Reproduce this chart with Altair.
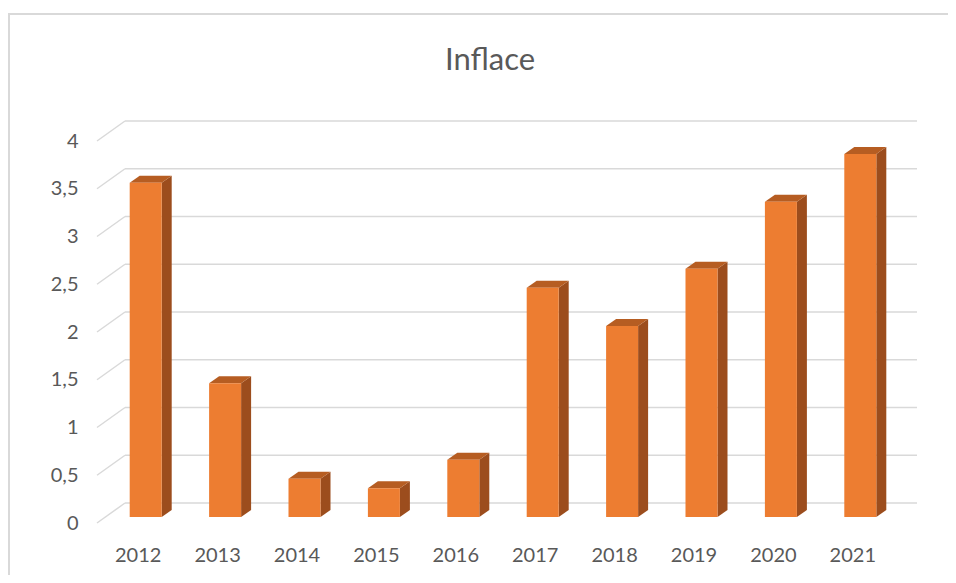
import altair as alt
import pandas as pd

# ---- data ----
years = [2012, 2013, 2014, 2015, 2016, 2017, 2018, 2019, 2020, 2021]
inflation = [3.5, 1.4, 0.4, 0.3, 0.6, 2.4, 2.0, 2.6, 3.3, 3.8]
y_ticks = [0, 0.5, 1, 1.5, 2, 2.5, 3, 3.5, 4]
title_text = "Inflace"

# ---- layout (pixels) ----
W, H = 794, 382
x_dom = [2011.5, 2021.5]
y_dom = [0, 4]
ux = W / (x_dom[1] - x_dom[0])   # px per year
uy = H / (y_dom[1] - y_dom[0])   # px per unit of value

shift = 8 / ux     # bar centre sits behind the front plane
half = 16 / ux     # half bar width
dx = 10 / ux       # 3D depth, horizontal
dy = 7 / uy        # 3D depth, vertical

FRONT = "#ED7D31"
SIDE = "#9C4D1D"
TOP = "#B65D22"
GRID = "#D9D9D9"
TXT = "#595959"
FONT = "Lato"

bars = pd.DataFrame({"year": years, "value": inflation})
bars["x0"] = bars["year"] + shift - half
bars["x1"] = bars["year"] + shift + half
bars["zero"] = 0.0

side_rows, top_rows = [], []
for yr, v in zip(years, inflation):
    xl = yr + shift - half
    xr = yr + shift + half
    side_rows.append({"year": yr, "x": xr, "lo": 0.0, "hi": v})
    side_rows.append({"year": yr, "x": xr + dx, "lo": dy, "hi": v + dy})
    top_rows.append({"year": yr, "y": v, "xa": xl, "xb": xr})
    top_rows.append({"year": yr, "y": v + dy, "xa": xl + dx, "xb": xr + dx})
side = pd.DataFrame(side_rows)
top = pd.DataFrame(top_rows)
grid = pd.DataFrame({"tick": y_ticks})

xs = alt.Scale(domain=x_dom, nice=False, zero=False)
ys = alt.Scale(domain=y_dom, nice=False, zero=False)

# gridlines: left wall (slanted) + back wall (horizontal)
y_axis = alt.Axis(values=y_ticks, labelExpr="replace(toString(datum.value), '.', ',')",
                  grid=False, ticks=False, domain=False, labelPadding=20,
                  labelFontSize=20, labelColor=TXT, labelFont=FONT, title=None)
wall = alt.Chart(grid).mark_rule(color=GRID, strokeWidth=1.5, xOffset=-1, x2Offset=27,
                                 y2Offset=-20).encode(
    x=alt.X(datum=x_dom[0], type="quantitative", scale=xs, axis=None),
    x2=alt.X2(datum=x_dom[0]),
    y=alt.Y("tick:Q", scale=ys, axis=y_axis),
    y2=alt.Y2("tick:Q"),
)
back = alt.Chart(grid).mark_rule(color=GRID, strokeWidth=1.5, xOffset=27, x2Offset=25,
                                 yOffset=-20, y2Offset=-20).encode(
    x=alt.X(datum=x_dom[0], type="quantitative", scale=xs, axis=None),
    x2=alt.X2(datum=x_dom[1]),
    y=alt.Y("tick:Q", scale=ys, axis=None),
    y2=alt.Y2("tick:Q"),
)

side_layer = alt.Chart(side).mark_area(color=SIDE, yOffset=-6, y2Offset=-6, orient="vertical").encode(
    x=alt.X("x:Q", scale=xs, axis=None),
    y=alt.Y("hi:Q", scale=ys, axis=None, stack=None),
    y2=alt.Y2("lo:Q"),
    detail="year:N",
)
top_layer = alt.Chart(top).mark_area(color=TOP, yOffset=-6, orient="horizontal").encode(
    y=alt.Y("y:Q", scale=ys, axis=None),
    x=alt.X("xa:Q", scale=xs, axis=None, stack=None),
    x2=alt.X2("xb:Q"),
    detail="year:N",
)
x_axis = alt.Axis(values=years, format="d", grid=False, ticks=False, domain=False,
                  labelPadding=22, labelFontSize=20, labelColor=TXT, labelFont=FONT, title=None)
front = alt.Chart(bars).mark_rect(color=FRONT, yOffset=-6, y2Offset=-6).encode(
    x=alt.X("x0:Q", scale=xs, axis=None),
    x2=alt.X2("x1:Q"),
    y=alt.Y("value:Q", scale=ys, axis=None),
    y2=alt.Y2("zero:Q"),
)
labels = alt.Chart(pd.DataFrame({"year": years})).mark_rule(opacity=0).encode(
    x=alt.X("year:Q", scale=xs, axis=x_axis),
    y=alt.value(0), y2=alt.value(1),
)
border = alt.Chart(pd.DataFrame({"a": [0]})).mark_rect(
    fill="white", fillOpacity=0, stroke=GRID, strokeWidth=2).encode(
    x=alt.value(-89), x2=alt.value(880), y=alt.value(-127), y2=alt.value(460),
)
title = alt.Chart(pd.DataFrame({"t": [title_text]})).mark_text(
    font=FONT, fontSize=31, color=TXT, baseline="alphabetic", align="center").encode(
    text="t:N", x=alt.value(W / 2 - 5), y=alt.value(-71),
)

chart = alt.layer(border, wall, back, side_layer, top_layer, front, labels, title).properties(
    width=W, height=H,
    autosize="none",
    padding={"left": 90, "top": 133, "right": 56, "bottom": 52},
    view=alt.ViewBackground(stroke="transparent", strokeWidth=0),
).resolve_axis(x="independent", y="independent").configure_view(
    stroke="transparent", strokeWidth=0).configure(background="white")

chart.save("out.html", embed_options={"renderer": "svg", "actions": False})
